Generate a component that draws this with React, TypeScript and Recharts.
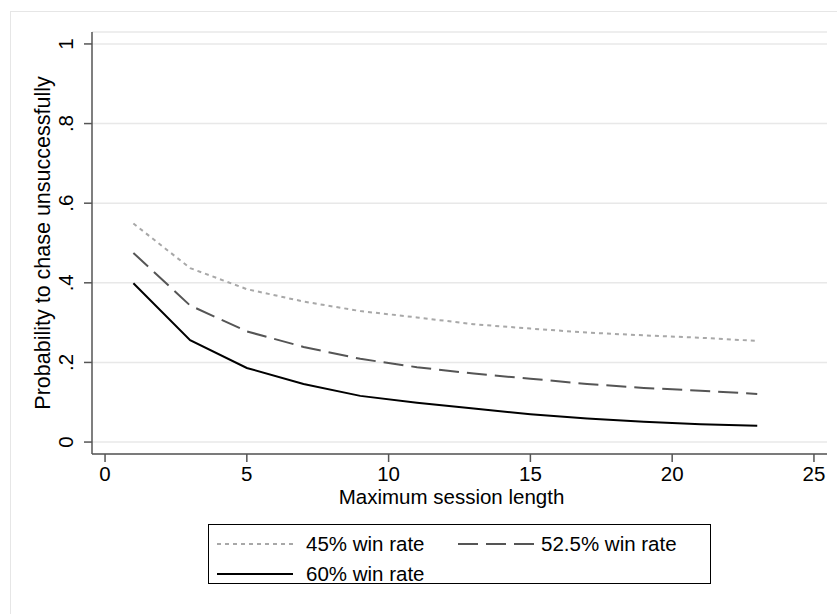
import { LineChart, Line, XAxis, YAxis, CartesianGrid, Label } from "recharts";

const sessionLength = [1, 3, 5, 7, 9, 11, 13, 15, 17, 19, 21, 23];
const winRate45 = [0.549, 0.437, 0.384, 0.353, 0.329, 0.313, 0.296, 0.285, 0.275, 0.268, 0.262, 0.254];
const winRate525 = [0.475, 0.343, 0.278, 0.239, 0.209, 0.188, 0.172, 0.159, 0.146, 0.136, 0.129, 0.121];
const winRate60 = [0.399, 0.256, 0.186, 0.146, 0.116, 0.099, 0.084, 0.07, 0.059, 0.051, 0.045, 0.041];

const xTicks = [0, 5, 10, 15, 20, 25];
const yTicks = [0, 0.2, 0.4, 0.6, 0.8, 1];
const yTickLabels = ["0", ".2", ".4", ".6", ".8", "1"];

const FONT = "'Liberation Sans', Arial, sans-serif";
const FS = 20.5;
const AXIS = "#555555";

const data = sessionLength.map((x, i) => ({
  x,
  w45: winRate45[i],
  w525: winRate525[i],
  w60: winRate60[i],
}));

const YTick = (props: any) => {
  const { x, y, payload } = props;
  const idx = yTicks.indexOf(payload.value);
  return (
    <text
      transform={`translate(${x - 11}, ${y}) rotate(-90)`}
      textAnchor="middle"
      fontFamily={FONT}
      fontSize={FS}
      fill="#000"
    >
      {idx >= 0 ? yTickLabels[idx] : payload.value}
    </text>
  );
};

const XTick = (props: any) => {
  const { x, y, payload } = props;
  return (
    <text x={x} y={y} dy="0.71em" textAnchor="middle" fontFamily={FONT} fontSize={FS} fill="#000">
      {payload.value}
    </text>
  );
};

const legendItems = [
  { label: "45% win rate", color: "#a8a8a8", dash: "4 4", left: 8, top: 19, textLeft: 97 },
  { label: "52.5% win rate", color: "#555555", dash: "20 8", left: 249, top: 19, textLeft: 332 },
  { label: "60% win rate", color: "#000000", dash: undefined, left: 8, top: 49, textLeft: 97 },
];

export default function App() {
  return (
    <div style={{ position: "absolute", left: 0, top: 0, width: 837, height: 614, background: "#fff", fontFamily: FONT }}>
      <div
        style={{
          position: "absolute",
          left: 10,
          top: 11,
          width: 827,
          height: 603,
          borderLeft: "1px solid #e6e6e6",
          borderTop: "1px solid #e6e6e6",
        }}
      />
      <LineChart
        width={837}
        height={614}
        data={data}
        margin={{ top: 32, right: 10, left: 10, bottom: 100 }}
        style={{ position: "absolute", left: 0, top: 0 }}
      >
        <CartesianGrid vertical={false} stroke="#e8e8e8" strokeWidth={1.5} />
        <XAxis
          type="number"
          dataKey="x"
          domain={[-0.46, 25.46]}
          ticks={xTicks}
          allowDataOverflow
          height={60}
          tickSize={8}
          tickMargin={4}
          stroke={AXIS}
          strokeWidth={1.5}
          tick={<XTick />}
        >
          <Label
            content={({ viewBox }: any) => (
              <text
                x={viewBox.x + viewBox.width / 2 - 8}
                y={viewBox.y + 50}
                textAnchor="middle"
                fontFamily={FONT}
                fontSize={FS}
                fill="#000"
              >
                Maximum session length
              </text>
            )}
          />
        </XAxis>
        <YAxis
          type="number"
          domain={[-0.03, 1.03]}
          ticks={yTicks}
          allowDataOverflow
          width={82}
          tickSize={8}
          tickMargin={0}
          stroke={AXIS}
          strokeWidth={1.5}
          tick={<YTick />}
        >
          <Label
            content={({ viewBox }: any) => (
              <text
                transform={`translate(50, ${viewBox.y + viewBox.height / 2}) rotate(-90)`}
                textAnchor="middle"
                fontFamily={FONT}
                fontSize={21.5}
                fill="#000"
              >
                Probability to chase unsuccessfully
              </text>
            )}
          />
        </YAxis>
        <Line type="linear" dataKey="w45" stroke="#a8a8a8" strokeWidth={2} strokeDasharray="4 4" dot={false} isAnimationActive={false} />
        <Line type="linear" dataKey="w525" stroke="#555555" strokeWidth={2} strokeDasharray="20 8" dot={false} isAnimationActive={false} />
        <Line type="linear" dataKey="w60" stroke="#000000" strokeWidth={2} dot={false} isAnimationActive={false} />
      </LineChart>
      <div
        style={{
          position: "absolute",
          left: 208,
          top: 524,
          width: 503,
          height: 60,
          border: "1.5px solid #000",
          boxSizing: "border-box",
        }}
      >
        {legendItems.map((item) => (
          <div key={item.label}>
            <svg
              width={76}
              height={4}
              style={{ position: "absolute", left: item.left, top: item.top - 2 }}
            >
              <line x1={0} y1={2} x2={76} y2={2} stroke={item.color} strokeWidth={2} strokeDasharray={item.dash} />
            </svg>
            <span
              style={{
                position: "absolute",
                left: item.textLeft,
                top: item.top - 13,
                fontSize: FS,
                lineHeight: "26px",
                whiteSpace: "nowrap",
                color: "#000",
              }}
            >
              {item.label}
            </span>
          </div>
        ))}
      </div>
    </div>
  );
}
